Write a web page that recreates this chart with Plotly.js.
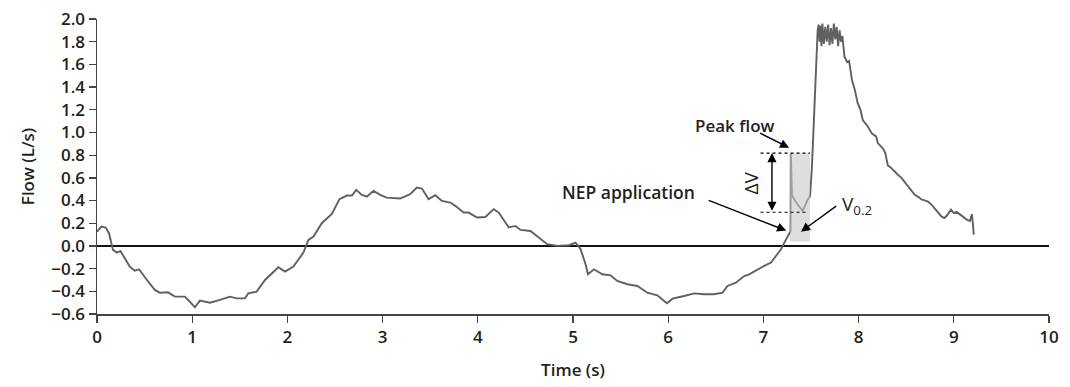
<!DOCTYPE html>
<html>
<head>
<meta charset="utf-8">
<script src="https://cdn.plot.ly/plotly-3.0.1.min.js"></script>
<style>html,body{margin:0;padding:0;background:#fff;}#chart{width:1070px;height:387px;}</style>
</head>
<body>
<div id="chart"></div>
<script>
// Time (s) of each sampled point of the flow trace
var time = [
  0.000, 0.046, 0.091, 0.126, 0.168, 0.210, 0.246, 0.291, 0.344, 0.396, 0.442, 0.519, 0.607, 0.660, 0.747, 0.818, 0.923, 0.975,
  1.028, 1.081, 1.186, 1.291, 1.396, 1.467, 1.554, 1.589, 1.677, 1.765, 1.853, 1.905, 1.975, 2.063, 2.168, 2.221, 2.274, 2.361,
  2.467, 2.547, 2.625, 2.677, 2.723, 2.782, 2.835, 2.905, 2.975, 3.044, 3.184, 3.290, 3.360, 3.413, 3.483, 3.553, 3.623, 3.711,
  3.763, 3.851, 3.904, 3.992, 4.079, 4.167, 4.220, 4.325, 4.395, 4.448, 4.553, 4.641, 4.729, 4.834, 4.957, 5.027, 5.080, 5.132,
  5.157, 5.220, 5.308, 5.395, 5.465, 5.571, 5.676, 5.781, 5.886, 5.986, 6.046, 6.167, 6.273, 6.378, 6.483, 6.571, 6.623, 6.711,
  6.799, 6.851, 6.939, 7.009, 7.080, 7.132, 7.185, 7.220, 7.255, 7.272, 7.285, 7.288, 7.300, 7.330, 7.360, 7.390, 7.410, 7.430,
  7.460, 7.490, 7.510, 7.530, 7.545, 7.560, 7.570, 7.580, 7.590, 7.600, 7.610, 7.620, 7.635, 7.650, 7.665, 7.680, 7.695, 7.710,
  7.725, 7.740, 7.755, 7.770, 7.785, 7.800, 7.815, 7.830, 7.851, 7.880, 7.900, 7.930, 7.960, 7.990, 8.020, 8.044, 8.070, 8.097,
  8.140, 8.184, 8.202, 8.254, 8.280, 8.307, 8.340, 8.360, 8.410, 8.450, 8.500, 8.550, 8.590, 8.630, 8.660, 8.700, 8.730, 8.770,
  8.800, 8.840, 8.870, 8.900, 8.930, 8.970, 9.000, 9.030, 9.060, 9.080, 9.110, 9.140, 9.170, 9.190, 9.200, 9.210
];
// Flow (L/s) at each of those times
var flow = [
  0.126, 0.171, 0.162, 0.112, -0.035, -0.059, -0.044, -0.109, -0.182, -0.218, -0.206, -0.294, -0.388, -0.412, -0.409, -0.447, -0.447, -0.491,
  -0.541, -0.482, -0.500, -0.476, -0.447, -0.462, -0.462, -0.418, -0.403, -0.300, -0.226, -0.188, -0.226, -0.182, -0.059, 0.053, 0.082, 0.200,
  0.282, 0.412, 0.444, 0.444, 0.494, 0.450, 0.435, 0.485, 0.450, 0.426, 0.418, 0.456, 0.515, 0.506, 0.412, 0.447, 0.397, 0.382,
  0.353, 0.294, 0.294, 0.250, 0.255, 0.324, 0.294, 0.162, 0.176, 0.141, 0.132, 0.074, 0.015, 0.000, 0.006, 0.029, -0.029, -0.162,
  -0.250, -0.206, -0.250, -0.259, -0.309, -0.338, -0.353, -0.412, -0.435, -0.506, -0.465, -0.441, -0.418, -0.426, -0.426, -0.412, -0.353, -0.324,
  -0.265, -0.250, -0.206, -0.176, -0.147, -0.088, -0.029, 0.029, 0.088, 0.118, 0.130, 0.818, 0.450, 0.400, 0.370, 0.330, 0.310, 0.340,
  0.400, 0.440, 0.700, 1.100, 1.400, 1.750, 1.900, 1.950, 1.800, 1.940, 1.760, 1.960, 1.780, 1.930, 1.800, 1.950, 1.770, 1.920,
  1.780, 1.960, 1.820, 1.930, 1.760, 1.900, 1.800, 1.850, 1.670, 1.620, 1.630, 1.465, 1.376, 1.260, 1.200, 1.110, 1.080, 1.053,
  0.990, 0.965, 0.906, 0.860, 0.820, 0.710, 0.690, 0.670, 0.630, 0.600, 0.550, 0.500, 0.450, 0.430, 0.410, 0.400, 0.390, 0.360,
  0.330, 0.300, 0.260, 0.245, 0.270, 0.320, 0.290, 0.300, 0.280, 0.270, 0.250, 0.230, 0.220, 0.280, 0.200, 0.100
];
// Annotation values
var peakFlow = 0.818;
var flowV02 = 0.297;
var nepStart = 7.28;
var nepEnd = 7.49;
var nepBase = 0.038;
var xTicks = [0,1,2,3,4,5,6,7,8,9,10];
var yTicks = [-0.6,-0.4,-0.2,0.0,0.2,0.4,0.6,0.8,1.0,1.2,1.4,1.6,1.8,2.0];

var FONT = '"Open Sans", "Noto Sans", sans-serif';
var TXT = '#231f20';
var FS = 17;
var W = 600;

var trace = {
  x: time, y: flow, type: 'scatter', mode: 'lines',
  line: {color: '#606060', width: 1.9},
  hoverinfo: 'skip'
};

function arrow(x, y, ax, ay, extra) {
  var a = {x: x, y: y, ax: ax, ay: ay, xref: 'x', yref: 'y', axref: 'x', ayref: 'y',
    text: '', showarrow: true, arrowhead: 2, arrowsize: 1.3, arrowwidth: 1.4,
    arrowcolor: '#000', standoff: 0, startstandoff: 0};
  for (var k in extra) a[k] = extra[k];
  return a;
}

var layout = {
  width: 1070, height: 387,
  margin: {l: 97, r: 21, t: 19, b: 73},
  paper_bgcolor: '#fff', plot_bgcolor: '#fff',
  showlegend: false,
  font: {family: FONT, color: TXT, size: FS, weight: W},
  xaxis: {
    range: [0, 10], tickvals: xTicks, ticktext: xTicks.map(String),
    ticks: 'outside', ticklen: 7, tickwidth: 1.3, tickcolor: '#444',
    showline: true, linecolor: '#444', linewidth: 1.5,
    showgrid: false, zeroline: false,
    tickfont: {family: FONT, size: FS, color: TXT, weight: W},
    title: {text: 'Time (s)', standoff: 17, font: {family: FONT, size: 17, color: TXT, weight: W}}
  },
  yaxis: {
    range: [-0.6, 2.0], tickvals: yTicks, ticktext: yTicks.map(function(v){return (v<0?'\u2212':'') + Math.abs(v).toFixed(1);}),
    ticks: 'outside', ticklen: 7, tickwidth: 1.3, tickcolor: '#444',
    showline: true, linecolor: '#444', linewidth: 1.5,
    showgrid: false, zeroline: true, zerolinecolor: '#111', zerolinewidth: 1.3,
    tickfont: {family: FONT, size: FS, color: TXT, weight: W},
    title: {text: 'Flow (L/s)', standoff: 12, font: {family: FONT, size: 17, color: TXT, weight: W}}
  },
  shapes: [
    {type: 'rect', xref: 'x', yref: 'y', x0: nepStart, x1: nepEnd, y0: nepBase, y1: peakFlow,
     fillcolor: 'rgba(200,200,200,0.6)', line: {width: 0}, layer: 'above'},
    {type: 'line', xref: 'x', yref: 'y', x0: 6.97, x1: nepEnd, y0: peakFlow, y1: peakFlow,
     line: {color: '#000', width: 1.2, dash: 'dot'}},
    {type: 'line', xref: 'x', yref: 'y', x0: 6.97, x1: 7.45, y0: flowV02, y1: flowV02,
     line: {color: '#000', width: 1.2, dash: 'dot'}}
  ],
  annotations: [
    {x: 6.70, y: 1.06, xref: 'x', yref: 'y', text: 'Peak flow', showarrow: false,
     font: {family: FONT, size: 17, color: TXT, weight: W}},
    arrow(7.27, 0.865, 6.95, 1.00),
    {x: 5.585, y: 0.477, xref: 'x', yref: 'y', text: 'NEP application', showarrow: false,
     font: {family: FONT, size: 17.5, color: TXT, weight: W}},
    arrow(7.24, 0.135, 6.41, 0.406),
    {x: 7.80, y: 0.36, xref: 'x', yref: 'y', text: 'V<sub>0.2</sub>', showarrow: false, xanchor: 'left',
     font: {family: FONT, size: 19, color: TXT, weight: 500}},
    arrow(7.395, 0.126, 7.78, 0.36),
    arrow(7.09, peakFlow, 7.09, flowV02, {arrowside: 'end+start', startarrowhead: 2, startarrowsize: 1.3}),
    {x: 6.86, y: 0.55, xref: 'x', yref: 'y', text: '\u0394V', showarrow: false, textangle: -90,
     font: {family: FONT, size: 19, color: TXT, weight: 500}}
  ]
};

Plotly.newPlot('chart', [trace], layout, {staticPlot: true, displayModeBar: false});
</script>
</body>
</html>
